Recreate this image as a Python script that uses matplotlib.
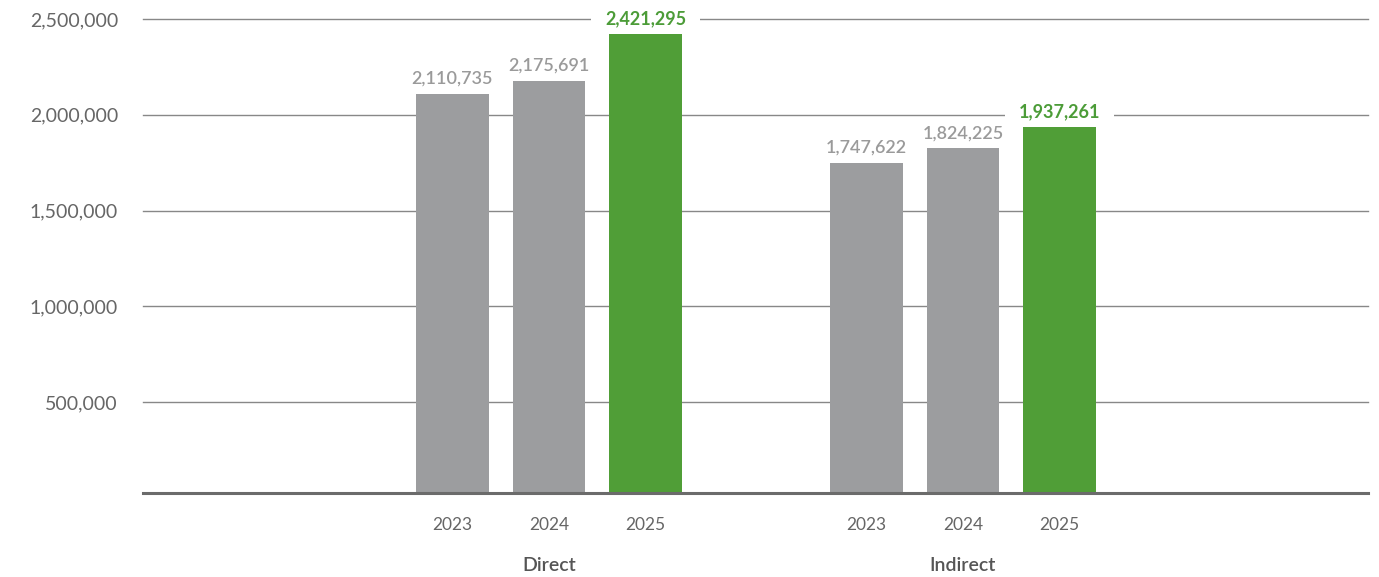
import matplotlib
matplotlib.use("Agg")
import matplotlib.pyplot as plt
from matplotlib.transforms import blended_transform_factory

groups = ["Direct", "Indirect"]
years = ["2023", "2024", "2025"]
direct = [2110735, 2175691, 2421295]
indirect = [1747622, 1824225, 1937261]
series = [direct, indirect]
yticks = [500000, 1000000, 1500000, 2000000, 2500000]

GRAY = "#9c9d9f"
GREEN = "#509e37"
GREEN_TXT = "#4c9c38"
LABEL_GRAY = "#9a9a9a"
TICK_TXT = "#666666"

plt.rcParams["font.family"] = ["Lato", "DejaVu Sans"]

W, H = 1379, 577
fig = plt.figure(figsize=(W / 100, H / 100), dpi=100)
left, right, top, bottom = 143, 1368, 19, 493
ax = fig.add_axes([left / W, 1 - bottom / H, (right - left) / W, (bottom - top) / H])

ax.set_ylim(25000, 2500000)
ax.set_xlim(-3.207, 9.487)

group_offset = 4.29
bar_w = 0.756
for spine in ax.spines.values():
    spine.set_visible(False)

for y in yticks:
    ax.axhline(y, color="#888888", lw=1.0, zorder=1, clip_on=False)
ax.axhline(25000, color="#6b6b6b", lw=2.2, zorder=4, clip_on=False)

xt, xl = [], []
for gi, vals in enumerate(series):
    for i, v in enumerate(vals):
        x = gi * group_offset + i
        last = i == len(vals) - 1
        ax.bar(x, v, width=bar_w, bottom=0, color=GREEN if last else GRAY, zorder=2)
        kw = {}
        if last:
            kw["bbox"] = dict(boxstyle="square,pad=0.75", fc="white", ec="none",
                              mutation_aspect=0.15)
        ax.annotate(f"{v:,}", (x, v), xytext=(0, 11), textcoords="offset points",
                    ha="center", va="center", fontsize=13,
                    fontweight="bold" if last else "semibold",
                    color=GREEN_TXT if last else LABEL_GRAY, zorder=5, **kw)
        xt.append(x)
        xl.append(years[i])
    trans = blended_transform_factory(ax.transData, ax.transAxes)
    ax.text(gi * group_offset + 1, -0.153, groups[gi], transform=trans,
            ha="center", va="center", fontsize=14, fontweight="semibold",
            color="#555555")

ax.set_xticks(xt)
ax.set_xticklabels(xl, fontsize=12.5, color=TICK_TXT)
ax.set_yticks(yticks)
ax.set_yticklabels([f"{t:,}" for t in yticks], fontsize=14, color=TICK_TXT)
ax.tick_params(axis="both", length=0)
ax.tick_params(axis="y", pad=18)
ax.tick_params(axis="x", pad=17)

fig.savefig("out.png", dpi=100, facecolor="white")
